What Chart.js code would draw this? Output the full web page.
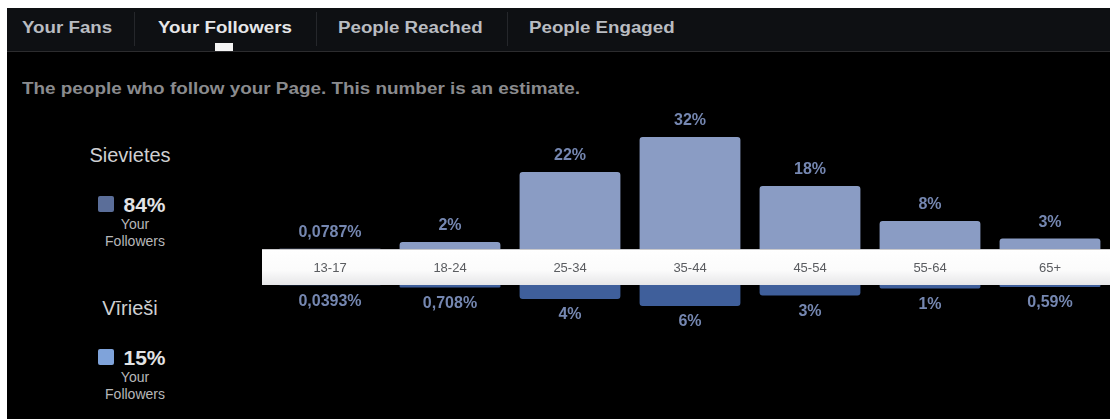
<!DOCTYPE html>
<html>
<head>
<meta charset="utf-8">
<script src="https://cdn.jsdelivr.net/npm/chart.js@4/dist/chart.umd.min.js"></script>
<style>
  body { margin: 0; background: #fff; width: 1110px; height: 419px; overflow: hidden; position: relative;
         font-family: "Liberation Sans", Arial, sans-serif; }
  #panel { position: absolute; left: 7px; top: 8px; width: 1103px; height: 411px; background: #000; }
  #tabs { position: absolute; left: 0; top: 0; width: 1103px; height: 43px; background: #0e1013;
          border-bottom: 1px solid #2c2c2e; }
  .tab { position: absolute; top: 11px; font-weight: bold; font-size: 16px; color: #b9bcc1; white-space: nowrap;
         transform: scaleX(1.17); transform-origin: left center; }
  .sep { position: absolute; top: 4px; width: 1px; height: 34px; background: #25272b; }
  #marker { position: absolute; left: 208px; top: 35px; width: 18px; height: 8px; background: #f4f4f4; }
  #subtitle { position: absolute; left: 15px; top: 72px; font-weight: bold; font-size: 16px; color: #8a8b8e; white-space: nowrap;
              transform: scaleX(1.18); transform-origin: left center; }
  .lg { position: absolute; width: 120px; text-align: center; color: #cfd0d2; }
  .gname { font-size: 20px; }
  .share { font-size: 21px; font-weight: bold; color: #e2e3e5; }
  .sw { display: inline-block; width: 16px; height: 16px; border-radius: 2px; vertical-align: 0px; margin-right: 9px; }
  .sub { font-size: 14px; line-height: 17px; color: #b7b8ba; }
  #wrap { position: absolute; left: 262px; top: 95px; width: 848px; height: 255px; }
</style>
</head>
<body>
<div id="panel">
  <div id="tabs">
    <div class="tab" style="left:15px">Your Fans</div>
    <div class="sep" style="left:127px"></div>
    <div class="tab" style="left:151px; color:#e6e7e9">Your Followers</div>
    <div class="sep" style="left:309px"></div>
    <div class="tab" style="left:331px">People Reached</div>
    <div class="sep" style="left:500px"></div>
    <div class="tab" style="left:522px">People Engaged</div>
    <div id="marker"></div>
  </div>
  <div id="subtitle">The people who follow your Page. This number is an estimate.</div>
  <div id="legend"></div>
</div>
<div id="wrap"><canvas id="myChart"></canvas></div>
<script>
// age groups and share of followers (%) per group
var ageGroups = ['13-17', '18-24', '25-34', '35-44', '45-54', '55-64', '65+'];
var women = [0.0787, 2, 22, 32, 18, 8, 3];
var men = [0.0393, 0.708, 4, 6, 3, 1, 0.59];

// left legend
var genderNames = ['Sievietes', 'Vīrieši'];
var genderShares = ['84%', '15%'];
var swatchColors = ['#5b6e99', '#7fa3da'];

var womenColor = '#8a9cc4';
var menColor = '#3f5f9b';
var labelColor = '#7587b1';

function fmt(v) {
  return String(v).replace('.', ',') + '%';
}

function buildLegend() {
  var tops = [130, 283];
  var html = '';
  for (var i = 0; i < genderNames.length; i++) {
    var t = tops[i];
    html += '<div class="lg gname" style="left:63px; top:' + (t + 6) + 'px">' + genderNames[i] + '</div>';
    html += '<div class="lg share" style="left:65px; top:' + (t + 55) + 'px"><span class="sw" style="background:' + swatchColors[i] + '"></span>' + genderShares[i] + '</div>';
    html += '<div class="lg sub" style="left:68px; top:' + (t + 78) + 'px">Your<br>Followers</div>';
  }
  document.getElementById('legend').innerHTML = html;
}
buildLegend();

// white strip with the age groups, drawn over the bar bases
var bandPlugin = {
  id: 'band',
  afterDatasetsDraw: function (chart) {
    var ctx = chart.ctx;
    var band = chart.scales.yB;
    var x = chart.scales.x;
    var g = ctx.createLinearGradient(0, band.top, 0, band.bottom);
    g.addColorStop(0, '#ffffff');
    g.addColorStop(0.6, '#fbfbfb');
    g.addColorStop(1, '#e6e6e8');
    ctx.save();
    ctx.fillStyle = g;
    ctx.fillRect(0, band.top, chart.width, band.bottom - band.top);
    ctx.fillStyle = '#c9c9cc';
    ctx.fillRect(0, band.top, chart.width, 1);
    ctx.fillStyle = '#5a5c60';
    ctx.font = '13px "Liberation Sans", Arial, sans-serif';
    ctx.textAlign = 'center';
    ctx.textBaseline = 'middle';
    var mid = (band.top + band.bottom) / 2 + 1;
    for (var i = 0; i < ageGroups.length; i++) {
      ctx.fillText(ageGroups[i], x.getPixelForValue(i), mid);
    }
    ctx.restore();
  }
};

// percent labels above/below every bar
var valuePlugin = {
  id: 'values',
  afterDatasetsDraw: function (chart) {
    var ctx = chart.ctx;
    ctx.save();
    ctx.fillStyle = labelColor;
    ctx.font = 'bold 16px "Liberation Sans", Arial, sans-serif';
    ctx.textAlign = 'center';
    ctx.textBaseline = 'middle';
    chart.data.datasets.forEach(function (ds, di) {
      chart.getDatasetMeta(di).data.forEach(function (bar, i) {
        var y = di == 0 ? bar.y - 16 : bar.y + 16;
        ctx.fillText(fmt(ds.data[i]), bar.x, y);
      });
    });
    ctx.restore();
  }
};

var ctx = document.getElementById('myChart').getContext('2d');
var chart = new Chart(ctx, {
  type: 'bar',
  data: {
    labels: ageGroups,
    datasets: [{
      label: 'Sievietes',
      data: women,
      yAxisID: 'yF',
      backgroundColor: womenColor,
      borderRadius: 3,
      grouped: false,
      categoryPercentage: 1,
      barPercentage: 0.84
    }, {
      label: 'Vīrieši',
      data: men,
      yAxisID: 'yM',
      backgroundColor: menColor,
      borderRadius: 3,
      grouped: false,
      categoryPercentage: 1,
      barPercentage: 0.84
    }]
  },
  options: {
    responsive: true,
    maintainAspectRatio: false,
    animation: false,
    events: [],
    layout: { padding: { left: 8, right: 0, top: 28, bottom: 30 } },
    plugins: { legend: { display: false }, tooltip: { enabled: false } },
    scales: {
      x: { display: false },
      yF: { display: false, position: 'left', stack: 'g', stackWeight: 126, weight: 3, min: 0, max: 36 },
      yB: { display: false, position: 'left', stack: 'g', stackWeight: 36, weight: 2, min: 0, max: 1 },
      yM: { display: false, position: 'left', stack: 'g', stackWeight: 35, weight: 1, min: 0, max: 10, reverse: true }
    }
  },
  plugins: [bandPlugin, valuePlugin]
});
</script>
</body>
</html>
